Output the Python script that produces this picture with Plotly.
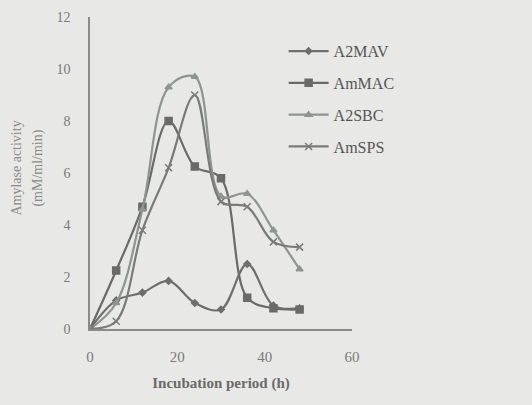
import plotly.graph_objects as go

hours = [0, 6, 12, 18, 24, 30, 36, 42, 48]
a2mav = [0, 1.1, 1.4, 1.85, 1.0, 0.75, 2.5, 0.9, 0.8]
ammac = [0, 2.25, 4.7, 8.0, 6.25, 5.8, 1.2, 0.8, 0.75]
a2sbc = [0, 1.0, 4.6, 9.3, 9.7, 5.1, 5.2, 3.8, 2.3]
amsps = [0, 0.3, 3.8, 6.2, 9.0, 4.9, 4.7, 3.35, 3.15]

x_ticks = [0, 20, 40, 60]
y_ticks = [0, 2, 4, 6, 8, 10, 12]

series = [
    ("A2MAV", a2mav, "#6e6e6e", "diamond", 5),
    ("AmMAC", ammac, "#6a6a6a", "square", 7),
    ("A2SBC", a2sbc, "#8e948e", "triangle-up", 6),
    ("AmSPS", amsps, "#7a7a7a", "x-thin-open", 7),
]

fig = go.Figure()
for i, (name, vals, col, sym, sz) in enumerate(series):
    fig.add_trace(go.Scatter(
        x=hours, y=vals, name=name, mode="lines+markers",
        line=dict(color=col, width=2.2, shape="spline", smoothing=1.0),
        marker=dict(symbol=sym, size=sz, color=col, line=dict(color=col, width=1.5)),
        legendgroup=f"g{i}",
    ))

font_serif = "Liberation Serif, DejaVu Serif, serif"
bg = "#e8e8e6"

fig.update_layout(
    width=532, height=405,
    margin=dict(l=90, r=180, t=17, b=76, autoexpand=False),
    paper_bgcolor=bg,
    plot_bgcolor=bg,
    showlegend=True,
    legend=dict(
        x=0.739, y=0.945, xanchor="left", yanchor="top",
        bgcolor="rgba(0,0,0,0)",
        font=dict(family=font_serif, size=16, color="#555555"),
        traceorder="grouped", tracegroupgap=8,
        itemwidth=40,
    ),
    xaxis=dict(
        range=[0, 60], tickvals=x_ticks, showgrid=False, zeroline=False,
        showline=True, linecolor="#8a8a8a", linewidth=1.5, automargin=False,
        ticks="", ticklabelstandoff=13,
        tickfont=dict(family=font_serif, size=15, color="#7a7a7a"),
        title=dict(text="<b>Incubation period (h)</b>", standoff=14,
                   font=dict(family=font_serif, size=15, color="#6a6a6a")),
    ),
    yaxis=dict(
        range=[0, 12], tickvals=y_ticks, showgrid=False, zeroline=False,
        showline=True, linecolor="#8a8a8a", linewidth=1.5, automargin=False,
        ticks="", ticklabelstandoff=15,
        tickfont=dict(family=font_serif, size=14, color="#7a7a7a"),
    ),
    annotations=[
        dict(text="Amylase activity", xref="paper", yref="paper",
             x=-0.284, y=0.516, xanchor="center", yanchor="middle",
             textangle=-90, showarrow=False,
             font=dict(family=font_serif, size=14, color="#8a8a8a")),
        dict(text="(mM/ml/min)", xref="paper", yref="paper",
             x=-0.20, y=0.516, xanchor="center", yanchor="middle",
             textangle=-90, showarrow=False,
             font=dict(family=font_serif, size=14, color="#8a8a8a")),
    ],
)

fig.write_html(
    "out.html",
    config={"displayModeBar": False},
    post_script=f"document.body.style.margin='0';document.body.style.background='{bg}';",
)
